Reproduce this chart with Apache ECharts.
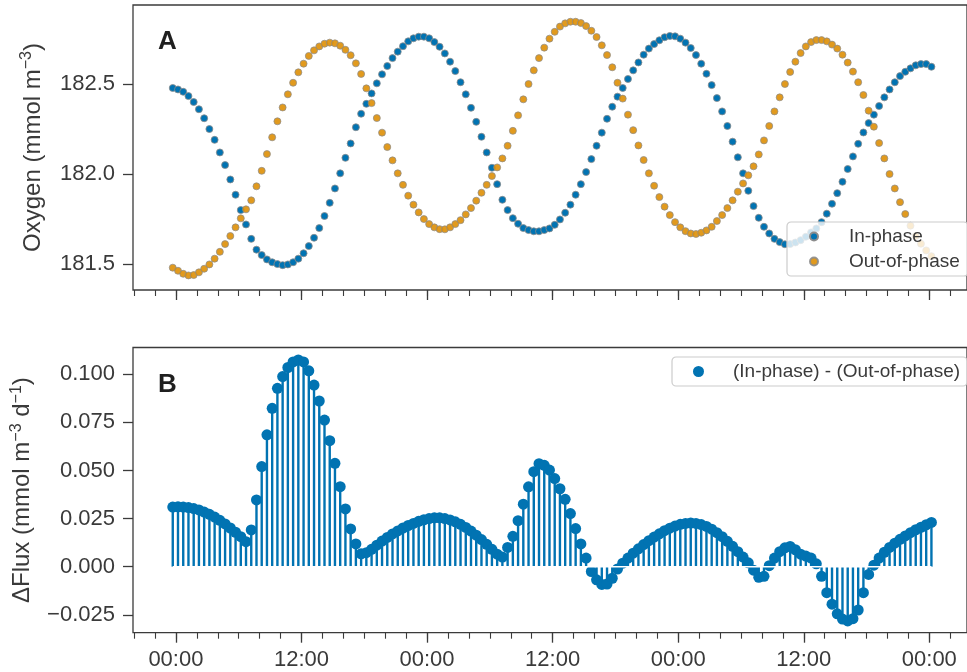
<!DOCTYPE html>
<html>
<head>
<meta charset="utf-8">
<script src="https://cdn.jsdelivr.net/npm/echarts@6/dist/echarts.min.js"></script>
<style>
  html, body { margin: 0; padding: 0; background: #fff; }
  #chart { width: 967px; height: 672px; }
</style>
</head>
<body>
<div id="chart"></div>
<script>
// Sampling: half-hourly, first sample 18 min before midnight of day 1 (hours)
const startHour = -0.3;
const stepHours = 0.5;

// Panel A: dissolved oxygen (mmol m-3)
const inPhase = [
  182.478,182.470,182.457,182.433,182.400,182.360,182.310,182.250,182.190,182.120,
  182.050,181.970,181.885,181.800,181.720,181.640,181.580,181.550,181.526,181.510,
  181.500,181.494,181.498,181.510,181.530,181.560,181.600,181.646,181.700,181.767,
  181.840,181.920,182.004,182.090,182.170,182.260,182.335,182.390,182.448,182.504,
  182.554,182.600,182.644,182.680,182.710,182.737,182.754,182.763,182.763,182.754,
  182.733,182.707,182.670,182.624,182.572,182.510,182.443,182.368,182.290,182.207,
  182.120,182.035,181.944,181.857,181.800,181.755,181.724,181.700,181.689,181.682,
  181.682,181.689,181.698,181.718,181.748,181.785,181.830,181.885,181.944,182.011,
  182.083,182.157,182.230,182.307,182.374,182.430,182.478,182.528,182.576,182.620,
  182.663,182.697,182.722,182.743,182.760,182.767,182.765,182.752,182.730,182.700,
  182.661,182.613,182.557,182.494,182.422,182.348,182.267,182.180,182.093,182.004,
  181.907,181.822,181.757,181.707,181.670,181.640,181.622,181.610,181.611,181.620,
  181.633,181.652,181.676,181.698,181.733,181.780,181.835,181.894,181.957,182.028,
  182.098,182.168,182.231,182.283,182.330,182.378,182.426,182.470,182.510,182.544,
  182.568,182.587,182.604,182.611,182.611,182.596
];
const outOfPhase = [
  181.480,181.463,181.446,181.437,181.439,181.454,181.474,181.498,181.530,181.568,
  181.611,181.656,181.704,181.754,181.804,181.854,181.932,182.018,182.111,182.204,
  182.293,182.370,182.443,182.507,182.565,182.613,182.656,182.687,182.709,182.724,
  182.730,182.726,182.713,182.690,182.660,182.615,182.556,182.476,182.394,182.311,
  182.230,182.150,182.076,182.004,181.940,181.880,181.830,181.787,181.750,181.722,
  181.704,181.694,181.693,181.704,181.722,181.744,181.776,181.811,181.852,181.896,
  181.940,181.989,182.037,182.087,182.157,182.240,182.326,182.415,182.500,182.576,
  182.644,182.702,182.752,182.790,182.819,182.837,182.846,182.846,182.839,182.822,
  182.796,182.761,182.715,182.661,182.593,182.507,182.419,182.330,182.244,182.159,
  182.078,182.004,181.935,181.872,181.819,181.772,181.733,181.704,181.683,181.670,
  181.667,181.674,181.687,181.707,181.739,181.772,181.811,181.854,181.902,181.948,
  181.993,182.043,182.109,182.187,182.267,182.348,182.426,182.500,182.567,182.624,
  182.672,182.709,182.733,182.744,182.744,182.737,182.719,182.697,182.663,182.619,
  182.569,182.510,182.439,182.352,182.263,182.172,182.087,182.000,181.920,181.844,
  181.778,181.713,181.656,181.613,181.576,181.544
];

// Panel B: flux difference (mmol m-3 d-1)
const deltaFlux = [
  0.0310,0.0311,0.0310,0.0307,0.0302,0.0295,0.0284,0.0272,0.0258,0.0241,
  0.0222,0.0201,0.0179,0.0156,0.0130,0.0191,0.0347,0.0520,0.0685,0.0823,
  0.0927,0.0988,0.1035,0.1064,0.1074,0.1064,0.1018,0.0944,0.0861,0.0762,
  0.0655,0.0537,0.0416,0.0300,0.0196,0.0118,0.0067,0.0073,0.0090,0.0112,
  0.0133,0.0152,0.0170,0.0186,0.0201,0.0214,0.0225,0.0236,0.0244,0.0250,
  0.0254,0.0254,0.0250,0.0243,0.0233,0.0220,0.0204,0.0185,0.0164,0.0141,
  0.0116,0.0090,0.0065,0.0050,0.0100,0.0158,0.0239,0.0325,0.0415,0.0494,
  0.0535,0.0527,0.0502,0.0458,0.0405,0.0350,0.0276,0.0198,0.0118,0.0045,
  -0.0025,-0.0068,-0.0092,-0.0090,-0.0060,-0.0012,0.0018,0.0045,0.0070,0.0093,
  0.0115,0.0135,0.0154,0.0171,0.0187,0.0200,0.0211,0.0220,0.0225,0.0227,
  0.0225,0.0219,0.0209,0.0195,0.0177,0.0156,0.0132,0.0106,0.0078,0.0050,
  0.0020,-0.0018,-0.0055,-0.0050,0.0005,0.0045,0.0078,0.0098,0.0105,0.0088,
  0.0065,0.0055,0.0045,0.0015,-0.0050,-0.0135,-0.0195,-0.0245,-0.0272,-0.0282,
  -0.0270,-0.0225,-0.0135,-0.0040,0.0008,0.0045,0.0075,0.0100,0.0122,0.0142,
  0.0160,0.0177,0.0192,0.0205,0.0218,0.0230
];

// Axis ticks
const timeMajorTicks = [0, 12, 24, 36, 48, 60, 72];
const timeMinorTicks = [-4,-2,0,2,4,6,8,10,12,14,16,18,20,22,24,26,28,30,32,34,36,
  38,40,42,44,46,48,50,52,54,56,58,60,62,64,66,68,70,72,74];
const oxygenTicks = [181.5, 182.0, 182.5];
const fluxTicks = [-0.025, 0, 0.025, 0.05, 0.075, 0.1];

const timeRange = { min: -4.1, max: 75.6 };
const oxygenRange = { min: 181.356, max: 182.939 };
const fluxRange = { min: -0.0343, max: 0.1139 };

const FONT = '"Liberation Sans", Arial, Helvetica, sans-serif';
const INK = '#3b3b3b';
const TEXT = '#3a3a3a';
const BLUE = '#0173b2';
const ORANGE = '#de8f05';

const hours = inPhase.map((_, i) => startHour + i * stepHours);
const pairs = (vals) => vals.map((v, i) => [hours[i], v]);

const clockLabel = (v) => {
  const h = ((Math.round(v) % 24) + 24) % 24;
  return String(h).padStart(2, '0') + ':00';
};
const fluxLabel = (v) => (v < 0 ? '\u2212' : '') + Math.abs(v).toFixed(3);

function timeAxes(gridIndex, withLabels) {
  const base = {
    type: 'value', gridIndex, position: 'bottom',
    min: timeRange.min, max: timeRange.max,
    splitLine: { show: false }
  };
  return [
    Object.assign({}, base, {
      axisLine: { show: false, onZero: false },
      axisTick: { show: true, length: 10, customValues: timeMajorTicks,
                  lineStyle: { color: INK, width: 1.3 } },
      axisLabel: { show: withLabels, customValues: timeMajorTicks, formatter: clockLabel,
                   margin: 16, color: TEXT, fontSize: 22, fontFamily: FONT }
    }),
    Object.assign({}, base, {
      axisLine: { show: false, onZero: false },
      axisTick: { show: true, length: 6, customValues: timeMinorTicks,
                  lineStyle: { color: INK, width: 1.1 } },
      axisLabel: { show: false }
    })
  ];
}

const supRich = {
  sup: { fontSize: 16, lineHeight: 16, verticalAlign: 'top', fontFamily: FONT, color: TEXT }
};

const chart = echarts.init(document.getElementById('chart'), null, { renderer: 'canvas' });

chart.setOption({
  animation: false,
  backgroundColor: '#ffffff',
  textStyle: { fontFamily: FONT },
  grid: [
    { left: 133, top: 5, width: 837, height: 285, show: true,
      borderColor: INK, borderWidth: 1.3, backgroundColor: 'transparent' },
    { left: 133, top: 347.5, width: 837, height: 285.2, show: true,
      borderColor: INK, borderWidth: 1.3, backgroundColor: 'transparent' }
  ],
  xAxis: [].concat(timeAxes(0, false), timeAxes(1, true)),
  yAxis: [
    { type: 'value', gridIndex: 0, min: oxygenRange.min, max: oxygenRange.max,
      splitLine: { show: false }, axisLine: { show: false, onZero: false },
      axisTick: { show: true, length: 10, customValues: oxygenTicks,
                  lineStyle: { color: INK, width: 1.3 } },
      axisLabel: { customValues: oxygenTicks, formatter: (v) => v.toFixed(1),
                   margin: 18, color: TEXT, fontSize: 22, fontFamily: FONT },
      name: 'Oxygen (mmol m{sup|\u22123})', nameLocation: 'middle', nameGap: 86,
      nameTextStyle: { color: TEXT, fontSize: 24, lineHeight: 28, fontFamily: FONT, rich: supRich }
    },
    { type: 'value', gridIndex: 1, min: fluxRange.min, max: fluxRange.max,
      splitLine: { show: false }, axisLine: { show: false, onZero: false },
      axisTick: { show: true, length: 10, customValues: fluxTicks,
                  lineStyle: { color: INK, width: 1.3 } },
      axisLabel: { customValues: fluxTicks, formatter: fluxLabel,
                   margin: 18, color: TEXT, fontSize: 22, fontFamily: FONT },
      name: '\u0394Flux (mmol m{sup|\u22123} d{sup|\u22121})', nameLocation: 'middle', nameGap: 86,
      nameTextStyle: { color: TEXT, fontSize: 24, lineHeight: 28, fontFamily: FONT, rich: supRich }
    }
  ],
  legend: [
    { data: ['In-phase', 'Out-of-phase'], orient: 'vertical',
      left: 787, top: 222, itemWidth: 8, itemHeight: 8, itemGap: 6,
      padding: [5, 8, 5, 22],
      backgroundColor: 'rgba(255,255,255,0.8)', borderColor: '#cccccc', borderWidth: 1.2,
      borderRadius: 4,
      formatter: (name) => '{g| }' + name,
      textStyle: { fontSize: 19, color: TEXT, fontFamily: FONT, rich: { g: { width: 26 } } }
    },
    { data: ['(In-phase) - (Out-of-phase)'], orient: 'vertical',
      left: 672, top: 357, itemWidth: 11, itemHeight: 11,
      padding: [5, 7, 5, 21],
      backgroundColor: 'rgba(255,255,255,0.8)', borderColor: '#cccccc', borderWidth: 1.2,
      borderRadius: 4,
      formatter: (name) => '{g| }' + name,
      textStyle: { fontSize: 19, color: TEXT, fontFamily: FONT, rich: { g: { width: 24 } } }
    }
  ],
  graphic: [
    { type: 'text', left: 158, top: 29, z: 10,
      style: { text: 'A', font: 'bold 26px ' + FONT, fill: '#1f1f1f' } },
    { type: 'text', left: 158, top: 372, z: 10,
      style: { text: 'B', font: 'bold 26px ' + FONT, fill: '#1f1f1f' } }
  ],
  series: [
    { name: 'In-phase', type: 'scatter', xAxisIndex: 0, yAxisIndex: 0,
      data: pairs(inPhase), symbolSize: 7, z: 3,
      itemStyle: { color: BLUE, borderColor: '#8c8c8c', borderWidth: 0.8, opacity: 1 } },
    { name: 'Out-of-phase', type: 'scatter', xAxisIndex: 0, yAxisIndex: 0,
      data: pairs(outOfPhase), symbolSize: 7, z: 3,
      itemStyle: { color: ORANGE, borderColor: '#8c8c8c', borderWidth: 0.8, opacity: 0.9 } },
    { name: 'stems', type: 'bar', xAxisIndex: 2, yAxisIndex: 1,
      data: pairs(deltaFlux), barWidth: 2.4, z: 2, silent: true,
      itemStyle: { color: BLUE } },
    { name: '(In-phase) - (Out-of-phase)', type: 'scatter', xAxisIndex: 2, yAxisIndex: 1,
      data: pairs(deltaFlux), symbolSize: 11, z: 3,
      itemStyle: { color: BLUE, opacity: 1 } },
    { name: 'baseline', type: 'line', xAxisIndex: 2, yAxisIndex: 1,
      data: [[hours[0], 0], [hours[hours.length - 1], 0]],
      showSymbol: false, symbol: 'none', silent: true, z: 4,
      lineStyle: { color: '#ffffff', width: 1.6 } }
  ]
});
</script>
</body>
</html>
